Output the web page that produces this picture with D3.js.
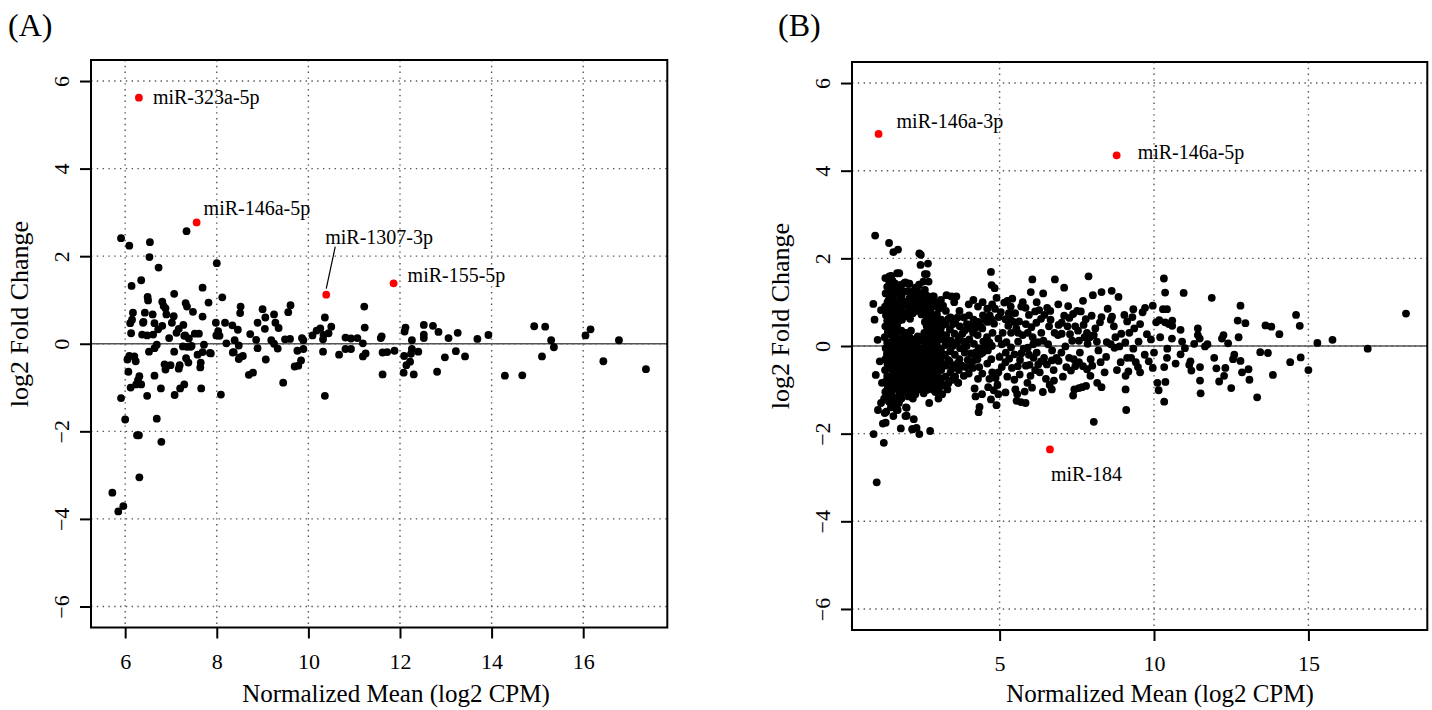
<!DOCTYPE html>
<html>
<head>
<meta charset="utf-8">
<script src="https://cdn.jsdelivr.net/npm/d3@7/dist/d3.min.js"></script>
<style>
  body { margin: 0; background: #fff; }
  text { font-family: "Liberation Serif", "Times New Roman", serif; }
</style>
</head>
<body>
<svg id="chart" width="1432" height="710"></svg>
<script>
'use strict';

// ---- data ----
var yTicks = [-6, -4, -2, 0, 2, 4, 6];
var yLimits = [-6, 6];
var aXTicks = [6, 8, 10, 12, 14, 16];
var bXTicks = [5, 10, 15];

// panel A: [log2 CPM, log2 FC]
var aPoints = [
  [5.91,2.41],[6.09,2.24],[7.34,2.57],[6.54,2.32],[6.53,1.98],[6.73,1.74],[8.0,1.84],[6.14,1.32],[6.35,1.45],[7.69,1.28],
  [8.12,1.06],[7.07,1.14],[6.49,1.07],[6.5,0.99],[6.81,0.96],[7.32,0.93],[7.35,0.85],[7.82,0.94],[9.61,0.88],[11.22,0.85],
  [8.52,0.85],[8.51,0.70],[6.17,0.71],[6.43,0.71],[6.6,0.67],[6.88,0.81],[6.9,0.67],[7.06,0.63],[7.48,0.73],[7.69,0.62],
  [9.0,0.79],[9.25,0.67],[9.06,0.6],[9.56,0.72],[10.36,0.60],[6.15,0.55],[6.11,0.47],[6.39,0.48],[6.64,0.47],[6.81,0.41],
  [7.02,0.48],[7.27,0.43],[7.17,0.34],[7.98,0.48],[8.18,0.48],[8.34,0.42],[8.46,0.32],[8.89,0.48],[9.28,0.48],[9.35,0.36],
  [9.05,0.34],[12.12,0.37],[11.23,0.37],[10.5,0.39],[10.26,0.35],[10.18,0.30],[10.09,0.19],[10.44,0.24],[12.52,0.43],[12.72,0.41],
  [12.84,0.27],[13.06,0.13],[13.26,0.25],[12.1,0.28],[12.52,0.21],[12.52,0.13],[12.26,0.08],[13.69,0.11],[13.93,0.20],[14.93,0.40],
  [15.17,0.39],[15.30,0.08],[15.36,-0.08],[15.1,-0.29],[16.05,0.19],[16.16,0.33],[16.78,0.08],[16.44,-0.40],[17.37,-0.58],[14.29,-0.73],
  [14.67,-0.72],[13.42,-0.29],[13.22,-0.17],[12.98,-0.31],[12.81,-0.64],[12.4,-0.18],[12.26,-0.12],[12.24,-0.23],[12.22,-0.41],[12.14,-0.49],
  [12.09,-0.28],[12.08,-0.66],[12.3,-0.70],[11.88,-0.16],[11.72,-0.19],[11.62,-0.20],[11.62,-0.70],[11.6,0.17],[11.58,0.13],[11.19,-0.29],
  [11.19,0.01],[10.93,0.12],[10.81,0.14],[11.07,0.13],[10.93,-0.12],[10.81,-0.12],[10.67,-0.25],[10.36,-1.19],[10.32,-0.18],[10.32,0.10],
  [9.89,0.08],[9.86,0.13],[9.76,-0.16],[9.89,-0.12],[9.84,-0.38],[9.78,-0.50],[9.70,-0.52],[9.45,-0.89],[9.6,0.11],[9.49,0.10],
  [9.33,-0.11],[9.19,0.08],[9.25,0.0],[9.07,-0.36],[8.89,-0.10],[8.86,0.09],[8.73,0.22],[8.79,-0.66],[8.70,-0.71],[8.57,-0.28],
  [8.48,-0.35],[8.48,-0.04],[8.37,-0.19],[8.39,0.08],[8.21,0.01],[8.06,0.18],[8.09,-1.16],[7.99,0.19],[7.85,-0.21],[7.72,-0.02],
  [7.69,-0.19],[7.65,-0.43],[7.64,-0.54],[7.66,-1.02],[7.58,-0.25],[7.52,0.23],[7.61,0.23],[7.39,0.12],[7.31,0.19],[7.26,-0.06],
  [7.35,-0.07],[7.43,-0.07],[7.38,-0.43],[7.33,-0.33],[7.29,-0.93],[7.2,-1.02],[7.17,-0.57],[7.19,-0.49],[7.07,-0.18],[6.96,0.13],
  [7.08,-1.17],[6.99,-0.49],[6.86,-0.47],[6.88,-0.59],[6.78,-1.02],[6.69,-0.02],[6.64,-0.10],[6.52,-0.18],[6.61,0.21],[6.48,0.19],
  [6.37,0.21],[6.13,0.24],[6.64,-0.73],[6.48,-1.19],[6.31,-0.74],[6.28,-0.83],[6.35,-0.93],[6.24,-0.93],[6.12,-1.0],[6.07,-0.64],
  [6.05,-0.36],[6.09,-0.28],[6.2,-0.29],[6.23,-0.40],[5.91,-1.24],[6.0,-1.73],[6.69,-1.71],[6.26,-2.09],[6.30,-2.09],[6.79,-2.24],
  [6.31,-3.05],[5.72,-3.40],[5.85,-3.83],[5.96,-3.71],
  [6.84,0.86],[7.29,0.18],[7.45,-0.05],[8.03,0.29],[7.87,-0.22],[8.35,-0.2],[8.5,-0.31],[6.72,0.33],[7.12,0.25],[6.4,0.5],
  [11.25,-0.22],[10.33,0.2]
];
var aNames = ["miR-323a-5p", "miR-146a-5p", "miR-1307-3p", "miR-155-5p"];
var aNameX = [6.30, 7.56, 10.39, 11.86];
var aNameY = [5.62, 2.77, 1.12, 1.38];

// panel B: [log2 CPM, log2 FC]
var bPoints = [
  // low-abundance edge
  [0.91,0.96],[0.97,2.52],[0.95,0.60],[1.05,0.14],[0.99,-0.66],[0.92,-2.01],[1.02,-3.11],[1.06,-1.46],[1.12,-0.35],[1.16,0.82],
  [1.19,-0.84],[1.16,-1.30],[1.25,-2.21],[1.22,-1.77],[1.28,-1.53],
  // dense cloud 1.3 - 5
  [1.30,1.55],[1.31,1.2],[1.29,0.9],[1.32,0.7],[1.30,0.45],[1.28,0.2],[1.31,-0.05],[1.30,-0.3],[1.29,-0.55],[1.32,-0.8],[1.30,-1.05],[1.33,-1.5],[1.31,-1.75],
  [1.36,1.35],[1.37,1.0],[1.35,0.78],[1.36,0.58],[1.38,0.32],[1.36,0.08],[1.35,-0.18],[1.37,-0.42],[1.36,-0.68],[1.38,-0.92],[1.36,-1.15],
  [1.42,2.35],[1.43,1.45],[1.41,1.05],[1.44,0.8],[1.42,0.55],[1.40,0.3],[1.43,0.05],[1.42,-0.2],[1.41,-0.45],[1.44,-0.7],[1.42,-0.95],[1.40,-1.25],
  [1.49,1.6],[1.50,1.22],[1.48,0.95],[1.49,0.7],[1.51,0.48],[1.49,0.25],[1.48,-0.02],[1.50,-0.28],[1.49,-0.52],[1.51,-0.78],[1.49,-1.05],[1.48,-1.4],
  [1.56,2.14],[1.55,1.3],[1.54,1.1],[1.57,0.85],[1.55,0.62],[1.53,0.38],[1.56,0.15],[1.55,-0.1],[1.54,-0.35],[1.57,-0.6],[1.55,-0.85],[1.53,-1.15],[1.56,-1.6],
  [1.62,1.42],[1.63,1.0],[1.61,0.78],[1.62,0.55],[1.64,0.32],[1.62,0.1],[1.61,-0.15],[1.63,-0.4],[1.62,-0.65],[1.64,-0.88],[1.62,-1.2],
  [1.68,1.66],[1.69,1.2],[1.67,0.95],[1.70,0.7],[1.68,0.48],[1.66,0.25],[1.69,0.0],[1.68,-0.25],[1.67,-0.5],[1.70,-0.72],[1.68,-0.98],[1.66,-1.45],
  [1.75,1.3],[1.76,1.05],[1.74,0.82],[1.75,0.58],[1.77,0.35],[1.75,0.12],[1.74,-0.12],[1.76,-0.35],[1.75,-0.6],[1.77,-0.85],[1.75,-1.05],[1.74,-1.3],
  [1.82,1.4],[1.83,1.15],[1.81,0.88],[1.84,0.6],[1.82,0.35],[1.80,0.1],[1.83,-0.15],[1.82,-0.4],[1.81,-0.62],[1.84,-0.9],[1.82,-1.2],[1.80,-1.88],
  [1.88,1.25],[1.89,1.02],[1.87,0.75],[1.90,0.22],[1.88,-0.02],[1.87,-0.28],[1.89,-0.52],[1.88,-0.78],[1.90,-1.05],
  [1.95,1.45],[1.96,1.0],[1.94,0.75],[1.97,0.3],[1.95,0.05],[1.93,-0.2],[1.96,-0.45],[1.95,-0.7],[1.94,-0.95],[1.97,-1.4],[1.95,-1.6],
  [2.02,1.25],[2.03,0.9],[2.01,0.68],[2.04,0.12],[2.02,-0.15],[2.01,-0.4],[2.03,-0.65],[2.02,-0.92],[2.04,-1.15],
  [2.08,1.42],[2.09,1.1],[2.07,0.85],[2.10,0.62],[2.08,0.2],[2.06,-0.05],[2.09,-0.3],[2.08,-0.55],[2.07,-0.8],[2.10,-1.05],
  [2.14,1.05],[2.15,0.8],[2.13,0.35],[2.14,0.05],[2.16,-0.22],[2.14,-0.48],[2.13,-0.72],[2.15,-0.98],
  [2.20,1.25],[2.21,0.95],[2.19,0.75],[2.22,0.15],[2.20,-0.1],[2.18,-0.35],[2.21,-0.6],[2.20,-0.85],[2.19,-1.2],[2.22,-1.67],[2.18,-1.9],
  [2.27,1.18],[2.28,0.92],[2.27,0.08],[2.29,-0.15],[2.27,-0.4],[2.26,-0.62],[2.28,-0.88],[2.27,-1.1],
  [2.33,1.33],[2.34,1.05],[2.32,0.8],[2.35,0.22],[2.33,0.0],[2.31,-0.25],[2.34,-0.5],[2.33,-0.75],[2.32,-0.99],[2.31,-1.87],
  [2.39,1.4],[2.40,1.0],[2.39,0.12],[2.41,-0.15],[2.39,-0.42],[2.38,-0.68],[2.40,-0.9],
  [2.45,2.08],[2.44,1.85],[2.46,1.2],[2.44,0.9],[2.47,0.72],[2.45,0.2],[2.43,-0.05],[2.46,-0.3],[2.45,-0.55],[2.44,-0.8],[2.47,-1.0],[2.40,-2.01],
  [2.52,1.1],[2.53,0.85],[2.54,0.18],[2.52,-0.08],[2.51,-0.32],[2.53,-0.58],[2.52,-0.82],[2.54,-1.08],
  [2.58,1.64],[2.58,1.28],[2.57,1.0],[2.60,0.78],[2.58,0.55],[2.56,0.3],[2.59,0.05],[2.58,-0.2],[2.57,-0.45],[2.60,-0.7],[2.58,-0.95],
  [2.64,1.15],[2.65,0.92],[2.63,0.68],[2.64,0.45],[2.66,0.22],[2.64,-0.02],[2.63,-0.25],[2.65,-0.48],[2.64,-0.72],[2.66,-1.0],
  [2.68,1.88],[2.70,1.47],[2.71,1.08],[2.69,0.85],[2.72,0.62],[2.70,0.4],[2.68,0.15],[2.71,-0.1],[2.70,-0.35],[2.69,-0.6],[2.72,-0.85],[2.72,-1.3],[2.75,-1.94],
  [2.77,0.98],[2.78,0.75],[2.76,0.52],[2.77,0.28],[2.79,0.05],[2.77,-0.22],[2.76,-0.45],[2.78,-0.68],[2.77,-0.92],
  [2.83,1.13],[2.84,0.9],[2.82,0.68],[2.85,0.45],[2.83,0.22],[2.81,-0.02],[2.84,-0.25],[2.83,-0.5],[2.82,-0.75],[2.85,-1.0],
  [2.90,1.0],[2.89,0.6],[2.90,0.38],[2.92,0.15],[2.90,-0.08],[2.89,-0.3],[2.91,-0.55],[2.90,-0.78],[2.92,-1.05],
  [2.96,0.95],[2.97,0.72],[2.95,0.5],[2.98,0.28],[2.96,0.05],[2.94,-0.18],[2.97,-0.42],[2.96,-0.65],[2.95,-0.9],[3.02,-1.2],
  [3.03,0.85],[3.04,0.6],[3.03,0.18],[3.05,-0.05],[3.03,-0.28],[3.04,-0.72],[3.03,-0.98],
  [3.10,1.05],[3.11,0.6],[3.09,0.38],[3.12,0.15],[3.10,-0.08],[3.08,-0.3],[3.11,-0.55],[3.10,-0.8],[3.14,-1.1],
  [3.17,0.92],[3.16,0.48],[3.17,0.25],[3.17,-0.2],[3.16,-0.42],[3.17,-0.9],
  [3.28,1.16],[3.26,0.8],[3.24,0.5],[3.27,0.25],[3.25,0.02],[3.23,-0.2],[3.26,-0.45],[3.25,-0.7],[3.31,-0.99],
  [3.34,0.62],[3.33,0.12],[3.33,-0.32],[3.34,-0.85],
  [3.44,1.13],[3.41,0.65],[3.39,0.38],[3.42,0.12],[3.40,-0.12],[3.38,-0.35],[3.41,-0.6],[3.47,-0.77],
  [3.49,0.5],[3.48,0.0],[3.48,-0.5],
  [3.60,1.13],[3.56,0.55],[3.54,0.28],[3.57,0.05],[3.55,-0.2],[3.53,-0.45],[3.56,-0.7],
  [3.64,0.65],[3.63,0.1],[3.63,-0.4],
  [3.70,0.8],[3.71,0.45],[3.69,0.2],[3.72,-0.05],[3.70,-0.3],[3.68,-0.55],[3.66,-0.84],
  [3.79,0.28],[3.78,-0.45],
  [3.85,0.65],[3.86,0.35],[3.84,0.1],[3.87,-0.15],[3.90,-0.48],[3.84,-0.68],
  [3.94,0.5],[3.93,0.0],
  [4.00,0.95],[4.01,0.7],[3.99,0.4],[4.02,0.15],[4.07,-0.17],[3.97,-0.32],[4.00,-0.63],
  [4.09,0.5],[4.10,-0.45],
  [4.15,1.05],[4.16,0.6],[4.14,0.3],[4.17,0.05],[4.19,-0.32],[4.13,-0.5],[4.19,-0.97],
  [4.23,0.42],[4.22,-0.15],[4.22,-1.15],
  [4.30,0.9],[4.31,0.55],[4.29,0.25],[4.32,-0.05],[4.34,-0.48],[4.28,-0.3],[4.30,-0.75],[4.35,-1.39],[4.32,-1.51],
  [4.39,0.45],[4.38,-0.18],
  [4.45,1.0],[4.46,0.7],[4.44,0.4],[4.47,0.1],[4.45,-0.15],[4.44,-0.63],[4.43,-1.10],
  [4.53,0.6],[4.52,0.0],
  [4.60,0.85],[4.61,0.55],[4.59,0.2],[4.62,-0.1],[4.60,-0.4],[4.63,-0.94],[4.72,-1.22],
  [4.68,0.7],[4.67,0.08],[4.67,-0.75],
  [4.72,1.69],[4.74,1.39],[4.76,0.95],[4.75,0.6],[4.77,0.3],[4.75,0.0],[4.73,-0.3],[4.76,-0.6],
  [4.84,1.32],[4.90,1.10],[4.97,0.66],[4.82,0.51],[4.96,0.17],[4.96,-0.60],[4.87,-0.73],[4.93,-0.89],[4.81,-1.01],[4.96,-1.10],
  // loose lower / upper strays left of 4
  [1.37,-0.99],[1.43,-1.12],[1.43,-1.28],[1.26,-1.20],[1.55,-0.94],[1.64,-1.33],[1.70,-1.46],[1.77,-1.10],[1.92,-0.99],[1.99,-1.41],
  [1.99,-1.59],[2.14,-0.89],[2.17,-1.90],[2.33,-0.99],[2.99,-0.94],[3.66,-0.84],[3.53,1.00],[2.87,1.13],[1.53,1.49],[1.71,2.20],
  [1.75,1.66],[1.43,1.59],[1.92,1.44],[2.06,1.42],[2.28,1.33],[2.53,1.47],[2.74,1.08],[2.64,1.64],[2.40,2.11],
  // mid range 5 - 10
  [5.15,0.99],[5.25,1.03],[5.41,1.08],[5.36,0.90],[6.06,1.52],[6.01,1.23],[6.41,1.20],[6.79,1.52],[7.09,1.33],[7.88,1.59],
  [7.70,1.03],[8.02,1.16],[8.30,1.23],[8.63,1.26],[8.85,1.12],[7.22,0.91],[8.64,0.67],
  [9.96,0.92],[9.77,0.27],[9.71,0.87],[9.63,0.77],[9.55,0.50],[9.36,0.40],[9.30,0.66],[9.33,0.84],[9.13,0.56],[9.04,0.71],
  [9.07,0.08],[8.94,0.28],[8.88,-0.01],[8.92,-0.37],[9.08,-0.68],[9.17,-0.58],[9.13,-0.27],[9.26,-0.27],[9.33,-0.06],[9.41,-0.37],
  [9.48,-0.48],[9.55,-0.60],[9.08,-0.99],[9.10,-1.46],[8.72,-0.04],[8.60,0.04],[8.47,0.09],[8.27,-0.37],[8.30,-0.94],[8.16,-0.84],
  [8.05,-1.73],[8.10,0.40],[8.25,0.54],[8.30,0.66],[8.05,0.25],[7.98,0.69],[7.79,0.61],[7.63,0.79],[7.51,0.80],[7.38,0.73],
  [7.26,0.64],[7.09,0.69],[7.01,0.53],[6.91,0.48],[6.89,0.25],[6.78,0.30],[7.01,0.28],[7.28,0.27],[7.54,0.35],[7.72,0.48],
  [7.83,0.30],[7.92,0.20],[7.75,0.20],[7.57,0.12],[7.35,0.12],[7.13,-0.01],[7.25,-0.27],[7.16,-0.48],[7.31,-0.56],[7.45,-0.46],
  [7.57,-0.37],[7.70,-0.46],[7.83,-0.53],[7.94,-0.68],[7.80,-0.91],[7.67,-0.94],[7.57,-0.96],[7.42,-0.99],[7.38,-1.13],[6.91,-0.34],
  [6.84,-0.27],[6.69,-0.33],[6.69,-0.99],[6.76,-0.79],[6.62,-0.89],[6.53,-0.42],[6.44,-0.27],[6.34,-0.35],[6.25,-0.42],[6.10,-0.27],
  [5.97,-0.43],[6.00,-0.68],[5.90,-0.84],[5.81,-1.04],[5.84,-1.30],[5.69,-1.28],[5.57,-1.10],[5.51,-0.99],[5.48,-0.77],[5.59,-0.46],
  [5.66,-0.32],[5.70,-0.17],[5.78,-0.06],[5.91,-0.04],[6.09,0.04],[6.25,0.09],[6.42,0.12],[6.57,0.04],[6.07,0.20],[5.91,0.30],
  [6.03,0.43],[6.19,0.53],[6.34,0.62],[6.45,0.71],[6.54,0.87],[6.64,0.80],[6.28,0.82],[6.15,0.79],[5.95,0.71],[5.84,0.87],
  [5.63,0.56],[5.54,0.40],[5.37,0.30],[5.28,0.46],[5.19,0.61],[5.04,0.77],[5.07,0.04],[5.22,0.09],[5.37,-0.03],[5.48,-0.19],
  [5.31,-0.29],[5.19,-0.37],[5.07,-0.48],[5.19,-1.06],
  [5.5,0.75],[5.7,0.9],[5.75,0.25],[5.6,0.1],[6.3,-0.6],[6.5,-0.75],[6.75,-0.55],[7.0,-0.15],[7.05,-0.7],[6.2,-0.15],
  [7.45,0.45],[7.95,-0.3],[8.2,-0.1],[8.4,-0.6],[8.5,0.85],[8.7,0.45],[8.8,-0.55],[9.5,0.1],[9.7,-0.2],[9.9,0.15],
  [9.2,0.3],[10.0,-0.15],
  [5.1,0.3],[5.3,0.75],[5.45,0.55],[5.6,0.3],[5.85,0.5],[5.95,-0.2],[6.15,-0.55],[6.35,0.3],[6.6,0.45],[6.7,-0.1],
  [5.25,-0.7],[5.4,-0.5],[5.65,-0.65],[5.85,-0.45],[6.05,-0.95],[6.4,-1.05],[5.35,0.6],[5.75,1.0],[6.2,1.0],[6.65,0.6],
  [6.9,0.95],[7.2,0.45],[7.4,-0.3],[7.6,-0.15],[7.85,0.05],[8.0,-0.45],[8.15,0.1],[8.45,-0.25],[8.6,0.6],[8.75,0.2],
  [5.55,-1.25],[4.9,-1.35],[5.0,-0.25],[5.2,-0.15],[4.85,0.85],
  // high abundance 10 - 18
  [10.32,1.54],[10.36,1.22],[10.96,1.21],[11.87,1.10],[12.80,0.92],[12.71,0.58],[12.96,0.52],[12.74,0.20],[13.61,0.47],[13.80,0.44],
  [14.06,0.27],[14.60,0.71],[14.72,0.46],[15.29,0.07],[15.78,0.14],[16.92,-0.06],[18.16,0.74],[15.0,-0.55],[14.75,-0.26],[14.41,-0.37],
  [13.85,-0.66],[13.69,-0.16],[13.44,-0.14],[13.34,-1.17],[13.09,-0.77],[13.06,-0.53],[12.85,-0.60],[12.80,-0.34],[12.56,-0.30],[12.50,-0.96],
  [12.31,-0.50],[12.27,-0.68],[12.11,-0.81],[12.02,-0.51],[11.95,-0.27],[11.73,0.04],[11.65,-0.01],[11.49,-0.48],[11.49,-0.79],[11.51,-1.08],
  [11.48,0.17],[11.42,0.40],[11.42,0.25],[11.21,-0.56],[11.14,-0.43],[11.18,-0.35],[10.86,0.37],[10.91,0.10],[10.86,-0.19],[12.20,0.17],
  [12.25,0.25],[12.40,0.06],[10.59,0.58],[10.59,0.46],[10.48,0.50],[10.42,0.84],[10.29,0.84],[10.36,0.54],[10.17,0.59],[10.07,0.54],
  [10.58,0.17],[10.43,-0.06],[10.42,-0.27],[10.33,-0.48],[10.37,-0.82],[10.33,-1.27],[10.15,-1.01],[10.11,-0.84],[9.96,-0.50],[9.83,-0.35],
  [10.2,0.2],[10.7,-0.4],[11.0,-0.05],[11.3,0.05],[12.6,-0.2]
];
var bNames = ["miR-146a-3p", "miR-146a-5p", "miR-184"];
var bNameX = [1.08, 8.79, 6.63];
var bNameY = [4.84, 4.35, -2.36];

// ---- drawing ----
var svg = d3.select("#chart");
var dotR = 3.9;

// R-style 4% axis expansion
function expand(ext) {
  var pad = (ext[1] - ext[0]) * 0.04;
  return [ext[0] - pad, ext[1] + pad];
}

function drawPanel(p) {
  var allX = p.points.map(function (d) { return d[0]; }).concat(p.nameX);
  var x = d3.scaleLinear().domain(expand(d3.extent(allX))).range([p.left, p.right]);
  var y = d3.scaleLinear().domain(expand(yLimits)).range([p.bottom, p.top]);
  var g = svg.append("g");

  // dotted grid
  g.selectAll(".vg").data(p.xTicks).enter().append("line")
    .attr("x1", function (d) { return x(d); }).attr("x2", function (d) { return x(d); })
    .attr("y1", p.top).attr("y2", p.bottom);
  g.selectAll(".hg").data(yTicks).enter().append("line")
    .attr("y1", function (d) { return y(d); }).attr("y2", function (d) { return y(d); })
    .attr("x1", p.left).attr("x2", p.right);
  g.selectAll("line")
    .attr("stroke", "#555").attr("stroke-width", 1.4).attr("stroke-dasharray", "1.4,4.4");

  // zero line
  g.append("line")
    .attr("x1", p.left).attr("x2", p.right)
    .attr("y1", y(0)).attr("y2", y(0))
    .attr("stroke", "#555").attr("stroke-width", 1.6);

  // points
  g.selectAll(".pt").data(p.points).enter().append("circle")
    .attr("cx", function (d) { return x(d[0]); })
    .attr("cy", function (d) { return y(d[1]); })
    .attr("r", dotR).attr("fill", "#000");

  // highlighted miRNAs
  p.names.forEach(function (name, i) {
    var cx = x(p.nameX[i]), cy = y(p.nameY[i]);
    g.append("circle").attr("cx", cx).attr("cy", cy).attr("r", dotR).attr("fill", "#ff0000");
    var off = p.offsets[i];
    g.append("text").attr("x", cx + off[0]).attr("y", cy + off[1])
      .attr("font-size", 20).text(name);
    if (p.leader && p.leader.index === i) {
      g.append("line")
        .attr("x1", cx + p.leader.from[0]).attr("y1", cy + p.leader.from[1])
        .attr("x2", cx + p.leader.to[0]).attr("y2", cy + p.leader.to[1])
        .attr("stroke", "#000").attr("stroke-width", 1.2);
    }
  });

  // axes
  var xa = g.append("g").attr("transform", "translate(0," + p.bottom + ")")
    .call(d3.axisBottom(x).tickValues(p.xTicks).tickSize(11).tickFormat(d3.format("d")));
  var ya = g.append("g").attr("transform", "translate(" + p.left + ",0)")
    .call(d3.axisLeft(y).tickValues(yTicks).tickSize(11).tickFormat(d3.format("d")));
  [xa, ya].forEach(function (a) {
    a.select(".domain").remove();
    a.selectAll(".tick line").attr("stroke", "#000").attr("stroke-width", 2);
    a.selectAll("text").attr("font-size", 22).attr("fill", "#000");
  });
  xa.selectAll("text").attr("y", 41).attr("dy", 0);
  ya.selectAll("text")
    .attr("transform", "rotate(-90)")
    .attr("x", 0).attr("y", -22).attr("dy", 0)
    .attr("text-anchor", "middle");

  // box
  g.append("rect")
    .attr("x", p.left).attr("y", p.top)
    .attr("width", p.right - p.left).attr("height", p.bottom - p.top)
    .attr("fill", "none").attr("stroke", "#000").attr("stroke-width", 2);

  // titles
  g.append("text").attr("x", p.xLabelX).attr("y", 702)
    .attr("text-anchor", "middle").attr("font-size", 25)
    .text("Normalized Mean (log2 CPM)");
  g.append("text")
    .attr("transform", "translate(" + (p.left - 63) + "," + p.yLabelY + ") rotate(-90)")
    .attr("text-anchor", "middle").attr("font-size", 26)
    .text("log2 Fold Change");
  g.append("text").attr("x", p.tagX).attr("y", 36)
    .attr("font-size", 32).text(p.tag);
}

drawPanel({
  tag: "(A)", tagX: 8,
  left: 91, right: 667.3, top: 60, bottom: 627.5,
  points: aPoints, xTicks: aXTicks,
  names: aNames, nameX: aNameX, nameY: aNameY,
  offsets: [[14, 6], [7, -7], [-1, -51], [14, -1]],
  leader: { index: 2, from: [0, -6], to: [9, -48] },
  xLabelX: 396, yLabelY: 314
});

drawPanel({
  tag: "(B)", tagX: 778,
  left: 852, right: 1427.3, top: 62, bottom: 630,
  points: bPoints, xTicks: bXTicks,
  names: bNames, nameX: bNameX, nameY: bNameY,
  offsets: [[18, -6], [21, 4], [1, 32]],
  xLabelX: 1160, yLabelY: 316
});
</script>
</body>
</html>
